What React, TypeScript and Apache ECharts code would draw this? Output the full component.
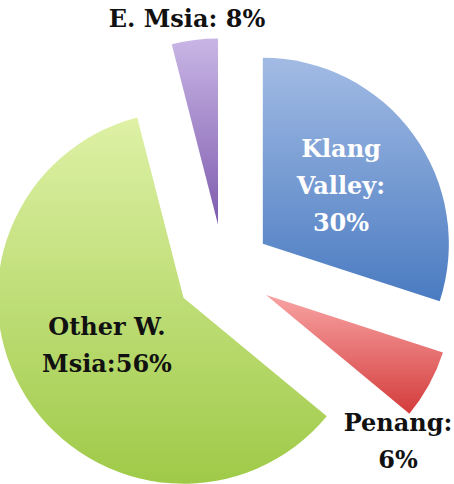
import React, { useEffect, useRef } from "react";
import * as echarts from "echarts";

const categories = ["Klang Valley", "Penang", "Other W. Msia", "E. Msia"];
const values = [30, 6, 60, 4];
const labelTexts = ["Klang\nValley:\n30%", "Penang:\n6%", "Other W.\nMsia:56%", "E. Msia: 8%"];
const topColors = ["#a2bbe4", "#f8a3a3", "#def1a6", "#c9b6e5"];
const bottomColors = ["#4a7bc1", "#d43c3c", "#9fca48", "#7e5bae"];
const labelColors = ["#ffffff", "#111111", "#111111", "#111111"];
const labelSpots: [number, number][] = [[341, 185], [398, 441], [107, 345], [187, 18]];

export default function App() {
  const ref = useRef<HTMLDivElement>(null);
  useEffect(() => {
    if (!ref.current) return;
    const chart = echarts.init(ref.current, null, { renderer: "svg" });
    const data = categories.map((name, i) => ({
      name,
      value: values[i],
      selected: true,
      itemStyle: {
        color: new echarts.graphic.LinearGradient(0, 0, 0, 1, [
          { offset: 0, color: topColors[i] },
          { offset: 1, color: bottomColors[i] },
        ]),
      },
    }));
    const texts = labelTexts.map((t, i) => ({
      type: "text",
      x: labelSpots[i][0],
      y: labelSpots[i][1],
      silent: true,
      z: 10,
      style: {
        text: t,
        fill: labelColors[i],
        font: "bold 24px 'DejaVu Serif'",
        lineHeight: 37,
        align: "center",
        verticalAlign: "middle",
      },
    }));
    chart.setOption({
      animation: false,
      backgroundColor: "#ffffff",
      graphic: texts,
      series: [
        {
          type: "pie",
          center: [224, 272],
          radius: [0, 186],
          startAngle: 90,
          clockwise: true,
          selectedMode: "multiple",
          selectedOffset: 48,
          silent: true,
          emphasis: { disabled: true },
          label: { show: false },
          labelLine: { show: false },
          data,
        },
      ],
    });
    return () => chart.dispose();
  }, []);
  return (
    <div
      ref={ref}
      style={{ position: "fixed", left: 0, top: 0, width: 454, height: 484 }}
    />
  );
}
